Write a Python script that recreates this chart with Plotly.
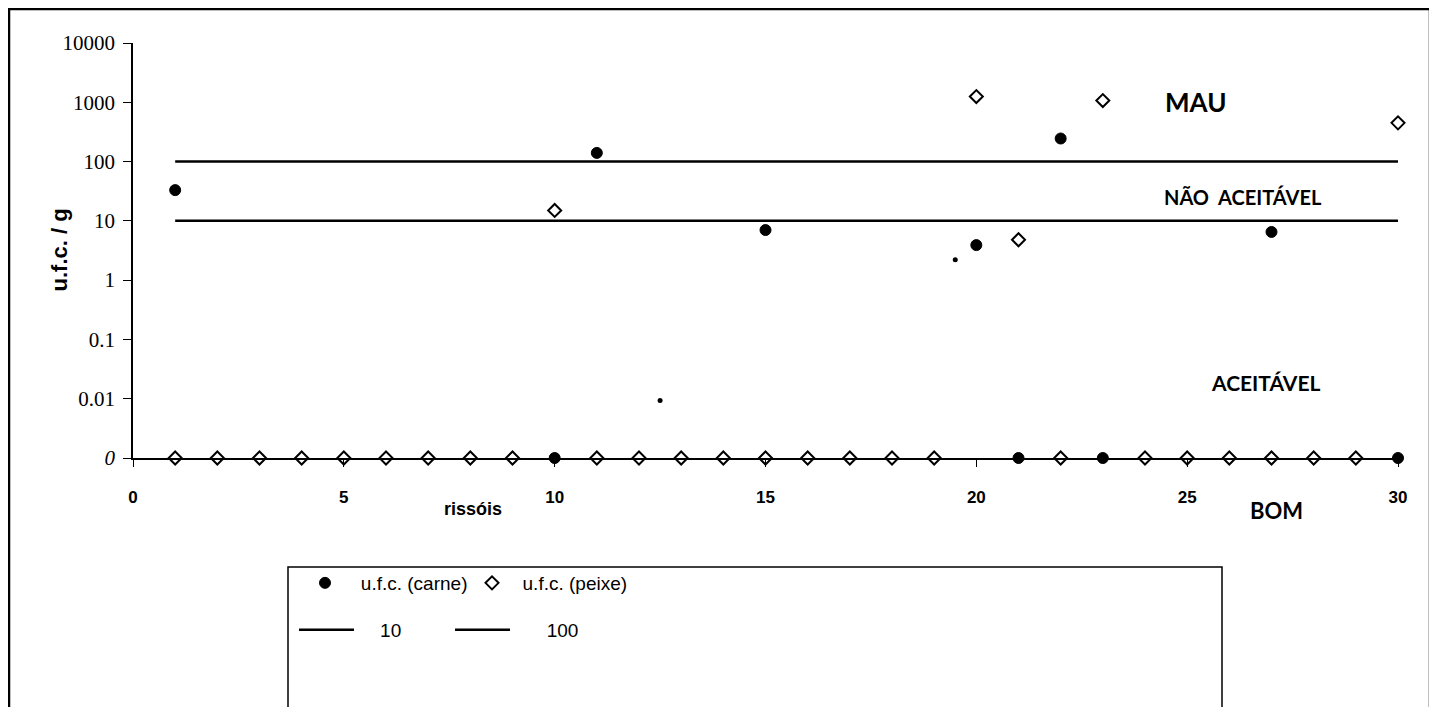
import plotly.graph_objects as go

# ---- data ----
x_carne = [1, 10, 11, 15, 20, 21, 22, 23, 27, 30]
y_carne = [33, 0, 140, 7, 3.9, 0, 245, 0, 6.5, 0]

x_peixe = [1, 2, 3, 4, 5, 6, 7, 8, 9, 10, 11, 12, 13, 14, 15, 16, 17, 18, 19,
           20, 21, 22, 23, 24, 25, 26, 27, 28, 29, 30]
y_peixe = [0, 0, 0, 0, 0, 0, 0, 0, 0, 15, 0, 0, 0, 0, 0, 0, 0, 0, 0,
           1250, 4.8, 0, 1070, 0, 0, 0, 0, 0, 0, 450]

# small stray marks visible in the scan
x_marks = [12.5, 19.5]
y_marks = [0.0093, 2.2]

limit_x = [1, 30]
limit_10 = [10, 10]
limit_100 = [100, 100]

y_tickvals = [0.001, 0.01, 0.1, 1, 10, 100, 1000, 10000]
y_ticktext = ["<i>0</i>", "0.01", "0.1", "1", "10", "100", "1000", "10000"]
x_tickvals = [0, 5, 10, 15, 20, 25, 30]

ZERO_LEVEL = 0.001  # "0" is drawn at the bottom of the log axis


def to_plot(vals):
    return [ZERO_LEVEL if v == 0 else v for v in vals]


OFF = 8  # page body margin: the figure starts at (8, 8) in the window
W, H = 1437 - OFF, 707 - OFF
L, R, T, B = 133 - OFF, 1437 - 1398, 43 - OFF, 707 - 458
PW = W - L - R
PH = H - T - B


def px(xp):
    return (xp - OFF - L) / PW


def py(yp):
    return (H - B - (yp - OFF)) / PH


NB = "\u00a0"

fig = go.Figure()

fig.add_trace(go.Scatter(
    x=x_marks, y=y_marks, mode="markers", showlegend=False,
    marker=dict(symbol="circle", size=5, color="black"), cliponaxis=False))

fig.add_trace(go.Scatter(
    x=limit_x, y=limit_10, mode="lines", name=NB * 4 + "10", legend="legend3",
    line=dict(color="black", width=2.5)))
fig.add_trace(go.Scatter(
    x=limit_x, y=limit_100, mode="lines", name=NB * 6 + "100",
    legend="legend4", line=dict(color="black", width=2.5)))

fig.add_trace(go.Scatter(
    x=x_peixe, y=to_plot(y_peixe), mode="markers",
    name=NB * 2 + "u.f.c. (peixe)",
    legend="legend2", cliponaxis=False,
    marker=dict(symbol="diamond", size=10, color="white",
                line=dict(color="black", width=2))))
fig.add_trace(go.Scatter(
    x=x_carne, y=to_plot(y_carne), mode="markers",
    name=NB * 3 + "u.f.c. (carne)",
    legend="legend", cliponaxis=False,
    marker=dict(symbol="circle", size=11, color="black",
                line=dict(color="black", width=1))))

leg_font = dict(family="Liberation Sans, Arial", size=19, color="black")
leg_common = dict(orientation="h", xanchor="left", yanchor="middle",
                  bgcolor="rgba(0,0,0,0)", borderwidth=0, font=leg_font)

fig.update_layout(
    width=W, height=H,
    margin=dict(l=L, r=R, t=T, b=B),
    paper_bgcolor="white", plot_bgcolor="white",
    legend=dict(x=px(305), y=py(583), **leg_common),
    legend2=dict(x=px(472), y=py(583), **leg_common),
    legend3=dict(x=px(294), y=py(630), itemwidth=55, **leg_common),
    legend4=dict(x=px(450), y=py(630), itemwidth=55, **leg_common),
    xaxis=dict(range=[0, 30], tickvals=x_tickvals,
               ticktext=[f"<b>{v}</b>" for v in x_tickvals],
               showgrid=False, zeroline=False, showline=True,
               linecolor="black", linewidth=1.5, ticks="outside",
               ticklen=7, tickcolor="black", tickwidth=1.2,
               ticklabelstandoff=16,
               tickfont=dict(family="Liberation Sans, Arial", size=17,
                             color="black")),
    yaxis=dict(type="log", range=[-3, 4], tickvals=y_tickvals,
               ticktext=y_ticktext, showgrid=False, zeroline=False,
               showline=True, linecolor="black", linewidth=1.5,
               ticks="outside", ticklen=8, tickcolor="black", tickwidth=1.2,
               ticklabelstandoff=4,
               tickfont=dict(family="Liberation Serif, Times New Roman",
                             size=21, color="black")),
    showlegend=True,
)

# outer frame and legend box
fig.add_shape(type="rect", xref="paper", yref="paper",
              x0=px(9), x1=px(1430), y0=py(712), y1=py(9),
              line=dict(color="black", width=2.5), layer="below")
fig.add_shape(type="rect", xref="paper", yref="paper",
              x0=px(288), x1=px(1222), y0=py(712), y1=py(567),
              line=dict(color="black", width=1.5), layer="below")

hand = dict(family="Lato, DejaVu Sans", color="black")
annots = [
    ("<b>MAU</b>", 1195, 102, 26),
    ("<b>NÃO  ACEITÁVEL</b>", 1243, 197, 20),
    ("<b>ACEITÁVEL</b>", 1265, 382, 21),
    ("<b>BOM</b>", 1276, 510, 22),
]
for txt, ax_, ay_, sz in annots:
    fig.add_annotation(x=px(ax_), y=py(ay_), xref="paper", yref="paper",
                       text=txt, showarrow=False, xanchor="center",
                       yanchor="middle", font=dict(size=sz, **hand))

fig.add_annotation(x=px(442), y=py(521), xref="paper", yref="paper",
                   text="<b>rissóis</b>", showarrow=False,
                   font=dict(family="Liberation Sans, Arial", size=18,
                             color="black"))
fig.add_annotation(x=px(45), y=py(250), xref="paper", yref="paper",
                   text="<b>u.f.c. / g</b>", showarrow=False, textangle=-90,
                   font=dict(family="Liberation Sans, Arial", size=22,
                             color="black"))

fig.write_html("out.html")
